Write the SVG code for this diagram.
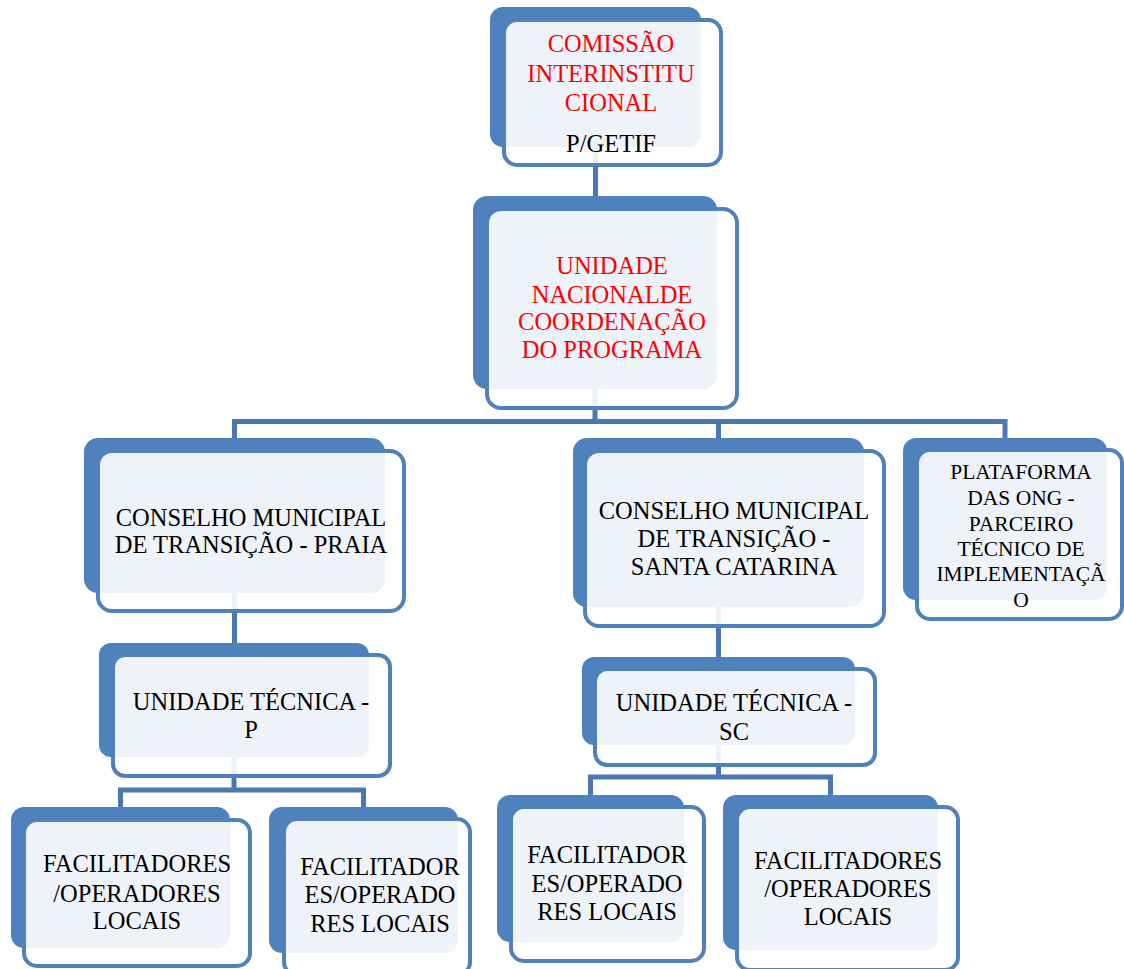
<svg xmlns="http://www.w3.org/2000/svg" width="1124" height="969" viewBox="0 0 1124 969">
<style>
.back{fill:#4f81bd}
.front{fill:#ffffff;fill-opacity:0.9;stroke:#4f81bd;stroke-width:4}
.conn{fill:none;stroke:#4a78b2;stroke-width:5;stroke-linejoin:miter;stroke-linecap:butt}
text{font-family:"Liberation Serif","DejaVu Serif",serif;font-size:24.5px;text-anchor:middle;fill:#000}
.red{fill:#ff0000}
.small{font-size:21.5px}
</style>
<rect width="1124" height="969" fill="#ffffff"/>
<g id="connectors">
<path class="conn" d="M595.5,147 V196"/>
<path class="conn" d="M595,389 V421.5"/>
<path class="conn" d="M234.5,438 V421.5 H1005 V438"/>
<path class="conn" d="M718.5,421.5 V438"/>
<path class="conn" d="M234.5,593 V643"/>
<path class="conn" d="M234,757 V790"/>
<path class="conn" d="M120.5,807 V790 H363.5 V807"/>
<path class="conn" d="M718.5,607 V657"/>
<path class="conn" d="M718.5,745 V777"/>
<path class="conn" d="M590.5,795 V777 H830.5 V795"/>
</g>
<g id="n1">
<rect class="back" x="490" y="7" width="211" height="140" rx="13"/>
<rect class="front" x="504" y="20" width="217" height="145" rx="13"/>
<text class="red" x="611" y="52">COMISSÃO</text>
<text class="red" x="611" y="82">INTERINSTITU</text>
<text class="red" x="611" y="111">CIONAL</text>
<text x="611" y="152">P/GETIF</text>
</g>
<g id="n2">
<rect class="back" x="473" y="196" width="244" height="193" rx="14"/>
<rect class="front" x="487" y="209" width="250" height="199" rx="14"/>
<text class="red" x="612" y="274">UNIDADE</text>
<text class="red" x="612" y="303">NACIONALDE</text>
<text class="red" x="612" y="330">COORDENAÇÃO</text>
<text class="red" x="612" y="358">DO PROGRAMA</text>
</g>
<g id="n3">
<rect class="back" x="84" y="438" width="301" height="155" rx="14"/>
<rect class="front" x="98" y="451" width="306" height="160" rx="14"/>
<text x="251" y="526">CONSELHO MUNICIPAL</text>
<text x="251" y="553">DE TRANSIÇÃO - PRAIA</text>
</g>
<g id="n4">
<rect class="back" x="573" y="438" width="291" height="169" rx="14"/>
<rect class="front" x="585" y="451" width="299" height="175" rx="14"/>
<text x="734" y="519">CONSELHO MUNICIPAL</text>
<text x="734" y="547">DE TRANSIÇÃO -</text>
<text x="734" y="575">SANTA CATARINA</text>
</g>
<g id="n5">
<rect class="back" x="903" y="438" width="204" height="162" rx="13"/>
<rect class="front" x="917" y="450" width="205" height="169" rx="13"/>
<text class="small" x="1021" y="479">PLATAFORMA</text>
<text class="small" x="1021" y="505">DAS ONG -</text>
<text class="small" x="1021" y="531">PARCEIRO</text>
<text class="small" x="1021" y="556">TÉCNICO DE</text>
<text class="small" x="1021" y="581">IMPLEMENTAÇÃ</text>
<text class="small" x="1021" y="607">O</text>
</g>
<g id="n6">
<rect class="back" x="99" y="643" width="270" height="114" rx="12"/>
<rect class="front" x="113" y="655" width="277" height="121" rx="12"/>
<text x="251" y="710">UNIDADE TÉCNICA -</text>
<text x="251" y="738">P</text>
</g>
<g id="n7">
<rect class="back" x="582" y="657" width="273" height="88" rx="12"/>
<rect class="front" x="595" y="669" width="280" height="96" rx="12"/>
<text x="734" y="711">UNIDADE TÉCNICA -</text>
<text x="734" y="740">SC</text>
</g>
<g id="n8">
<rect class="back" x="11" y="807" width="219" height="141" rx="13"/>
<rect class="front" x="24" y="820" width="226" height="146" rx="13"/>
<text x="137" y="872">FACILITADORES</text>
<text x="137" y="902">/OPERADORES</text>
<text x="137" y="929">LOCAIS</text>
</g>
<g id="n9">
<rect class="back" x="269" y="807" width="189" height="146" rx="13"/>
<rect class="front" x="284" y="819" width="186" height="156" rx="13"/>
<text x="380" y="875">FACILITADOR</text>
<text x="380" y="903">ES/OPERADO</text>
<text x="380" y="932">RES LOCAIS</text>
</g>
<g id="n10">
<rect class="back" x="497" y="795" width="187" height="147" rx="13"/>
<rect class="front" x="511" y="807" width="193" height="154" rx="13"/>
<text x="607" y="863">FACILITADOR</text>
<text x="607" y="892">ES/OPERADO</text>
<text x="607" y="920">RES LOCAIS</text>
</g>
<g id="n11">
<rect class="back" x="723" y="795" width="215" height="155" rx="13"/>
<rect class="front" x="737" y="807" width="221" height="163" rx="13"/>
<text x="848" y="869">FACILITADORES</text>
<text x="848" y="897">/OPERADORES</text>
<text x="848" y="925">LOCAIS</text>
</g>
</svg>
